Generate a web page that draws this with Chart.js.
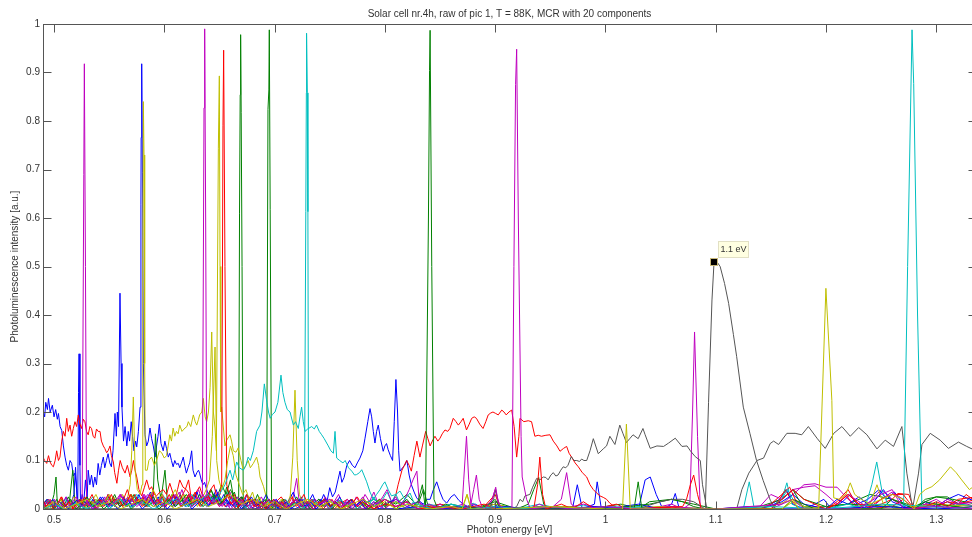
<!DOCTYPE html>
<html>
<head>
<meta charset="utf-8">
<script src="https://cdn.jsdelivr.net/npm/chart.js@4.4.1/dist/chart.umd.min.js"></script>
<style>
    html, body { margin: 0; padding: 0; background: #fff; overflow: hidden; }
    #wrap { width: 980px; height: 537px; }
</style>
</head>
<body>
<div id="wrap"><canvas id="myChart" width="980" height="537"></canvas></div>
<script>
// MCR components, [photon energy eV, intensity a.u.]
var s01Blue = [[0.490,0.203],[0.4915,0.19],[0.4925,0.22],[0.494,0.205],[0.495,0.228],[0.4965,0.2],[0.4985,0.214],[0.5,0.19],[0.5015,0.205],[0.503,0.185],[0.504,0.197],[0.5055,0.17],[0.507,0.162],[0.5085,0.13],[0.51,0.107],[0.5115,0.09],[0.513,0.08],[0.5145,0.1],[0.516,0.094],[0.5175,0.068],[0.519,0.074],[0.5205,0.04],[0.5215,0.01],[0.5222,0.24],[0.5227,0.32],[0.5235,0.09],[0.524,0.01],[0.5255,0.03],[0.527,0.015],[0.5285,0.06],[0.53,0.02],[0.531,0.08],[0.5325,0.05],[0.534,0.07],[0.5356,0.045],[0.537,0.066],[0.5385,0.05],[0.54,0.094],[0.5415,0.07],[0.543,0.09],[0.5447,0.107],[0.546,0.085],[0.5475,0.1],[0.549,0.114],[0.5505,0.095],[0.552,0.087],[0.5535,0.12],[0.5553,0.197],[0.5565,0.15],[0.5574,0.2],[0.5585,0.17],[0.5598,0.445],[0.5608,0.3],[0.5616,0.21],[0.563,0.14],[0.5644,0.17],[0.566,0.13],[0.5673,0.16],[0.5685,0.14],[0.570,0.18],[0.5712,0.15],[0.5725,0.12],[0.574,0.14],[0.575,0.128],[0.5765,0.16],[0.578,0.21],[0.5788,0.627],[0.579,0.766],[0.5795,0.918],[0.5802,0.693],[0.581,0.3],[0.5825,0.153],[0.584,0.13],[0.5855,0.14],[0.587,0.167],[0.5885,0.145],[0.59,0.13],[0.5916,0.107],[0.593,0.13],[0.5943,0.15],[0.5955,0.175],[0.597,0.135],[0.599,0.12],[0.6005,0.14],[0.602,0.125],[0.6036,0.107],[0.605,0.115],[0.6065,0.1],[0.608,0.087],[0.6095,0.1],[0.611,0.092],[0.6127,0.094],[0.614,0.085],[0.6155,0.095],[0.6172,0.107],[0.6185,0.09],[0.62,0.074],[0.6215,0.085],[0.623,0.095],[0.6248,0.12],[0.626,0.08],[0.6278,0.066],[0.6295,0.075],[0.631,0.08],[0.632,0.074],[0.6335,0.06],[0.635,0.05],[0.6365,0.055],[0.6384,0.04],[0.64,0.03],[0.6415,0.02],[0.643,0.015],[0.6444,0.01],[0.647,0.02],[0.65,0.008],[0.653,0.015],[0.656,0.004],[0.66,0.012],[0.664,0.003],[0.668,0.01],[0.672,0.0],[0.677,0.008],[0.682,0.0],[0.688,0.006],[0.694,0.0],[0.70,0.005],[0.706,0.0],[0.712,0.008],[0.718,0.0],[0.724,0.006],[0.73,0.0],[0.7345,0.02],[0.7375,0.005],[0.741,0.01],[0.7445,0.03],[0.7475,0.015],[0.750,0.044],[0.7525,0.025],[0.755,0.035],[0.7575,0.06],[0.7593,0.078],[0.761,0.055],[0.763,0.065],[0.7655,0.09],[0.768,0.1],[0.7705,0.09],[0.7729,0.085],[0.775,0.095],[0.7774,0.105],[0.78,0.12],[0.782,0.146],[0.7845,0.18],[0.7865,0.207],[0.788,0.19],[0.7895,0.16],[0.791,0.136],[0.7925,0.16],[0.794,0.173],[0.796,0.145],[0.7985,0.119],[0.8,0.13],[0.8015,0.135],[0.803,0.122],[0.805,0.11],[0.807,0.1],[0.8085,0.18],[0.81,0.267],[0.8115,0.2],[0.8125,0.12],[0.8137,0.078],[0.816,0.085],[0.818,0.09],[0.82,0.1],[0.822,0.07],[0.824,0.05],[0.8265,0.035],[0.8288,0.023],[0.832,0.015],[0.835,0.01],[0.838,0.02],[0.841,0.02],[0.844,0.04],[0.847,0.056],[0.85,0.035],[0.8527,0.02],[0.856,0.012],[0.86,0.025],[0.863,0.03],[0.867,0.018],[0.871,0.01],[0.876,0.004],[0.882,0.01],[0.89,0.0],[0.9,0.006],[0.91,0.0],[0.925,0.004],[0.94,0.0],[0.955,0.006],[0.97,0.0],[0.9745,0.05],[0.979,0.0],[0.99,0.01],[0.9925,0.056],[0.996,0.005],[1.005,0.0],[1.02,0.005],[1.03,0.0],[1.036,0.06],[1.0406,0.066],[1.046,0.03],[1.052,0.0],[1.06,0.01],[1.0633,0.032],[1.067,0.0],[1.08,0.0],[1.1,0.0],[1.14,0.0],[1.15,0.01],[1.158,0.02],[1.164,0.04],[1.17,0.01],[1.18,0.0],[1.19,0.01],[1.198,0.02],[1.205,0.0],[1.215,0.015],[1.222,0.03],[1.228,0.01],[1.238,0.02],[1.248,0.04],[1.255,0.02],[1.262,0.035],[1.27,0.01],[1.28,0.0],[1.29,0.01],[1.3,0.005],[1.31,0.015],[1.32,0.005],[1.33,0.022],[1.336,0.01]];
var s02Green = [[0.49,0.01],[0.494,0.02],[0.497,0.005],[0.5,0.03],[0.5018,0.066],[0.503,0.01],[0.507,0.02],[0.51,0.005],[0.514,0.015],[0.517,0.08],[0.519,0.01],[0.523,0.02],[0.527,0.0],[0.532,0.015],[0.536,0.005],[0.54,0.02],[0.545,0.01],[0.55,0.025],[0.555,0.005],[0.56,0.02],[0.565,0.01],[0.57,0.03],[0.575,0.01],[0.58,0.02],[0.585,0.01],[0.59,0.03],[0.592,0.155],[0.594,0.06],[0.597,0.02],[0.6006,0.08],[0.603,0.01],[0.607,0.03],[0.612,0.01],[0.617,0.02],[0.622,0.005],[0.627,0.03],[0.632,0.01],[0.637,0.02],[0.642,0.04],[0.647,0.02],[0.652,0.05],[0.656,0.03],[0.66,0.06],[0.663,0.02],[0.6674,0.0],[0.6682,0.61],[0.6688,0.854],[0.6692,0.978],[0.6697,0.818],[0.6705,0.5],[0.6716,0.0],[0.677,0.02],[0.682,0.005],[0.687,0.015],[0.692,0.0],[0.7,0.01],[0.71,0.0],[0.72,0.015],[0.73,0.0],[0.74,0.02],[0.75,0.005],[0.76,0.015],[0.77,0.0],[0.78,0.02],[0.79,0.005],[0.8,0.02],[0.81,0.01],[0.82,0.03],[0.83,0.005],[0.84,0.0],[0.86,0.01],[0.88,0.0],[0.9,0.015],[0.92,0.0],[0.93,0.01],[0.935,0.04],[0.9395,0.065],[0.944,0.01],[0.95,0.0],[1.0,0.005],[1.014,0.01],[1.023,0.005],[1.03,0.0],[1.04,0.015],[1.06,0.02],[1.08,0.01],[1.1,0.0],[1.14,0.005],[1.16,0.02],[1.17,0.04],[1.18,0.02],[1.2,0.005],[1.22,0.01],[1.24,0.03],[1.26,0.02],[1.28,0.005],[1.3,0.025],[1.315,0.02],[1.336,0.01]];
var s03Red = [[0.490,0.107],[0.4915,0.1],[0.4934,0.094],[0.495,0.11],[0.4964,0.097],[0.498,0.09],[0.4994,0.087],[0.501,0.1],[0.5024,0.12],[0.504,0.1],[0.5054,0.107],[0.507,0.14],[0.5085,0.16],[0.51,0.15],[0.5115,0.187],[0.513,0.16],[0.5145,0.173],[0.516,0.15],[0.5175,0.166],[0.519,0.18],[0.5205,0.17],[0.522,0.194],[0.5235,0.175],[0.525,0.166],[0.5265,0.185],[0.528,0.18],[0.5295,0.16],[0.531,0.153],[0.5325,0.17],[0.534,0.166],[0.5355,0.15],[0.537,0.146],[0.5385,0.165],[0.54,0.16],[0.5417,0.16],[0.543,0.14],[0.5447,0.13],[0.546,0.125],[0.5477,0.116],[0.549,0.12],[0.5508,0.13],[0.552,0.11],[0.5538,0.097],[0.555,0.075],[0.557,0.053],[0.5585,0.08],[0.56,0.1],[0.562,0.085],[0.5644,0.074],[0.5665,0.09],[0.569,0.066],[0.5705,0.08],[0.572,0.1],[0.5735,0.08],[0.575,0.066],[0.577,0.04],[0.5795,0.027],[0.582,0.045],[0.584,0.06],[0.5865,0.04],[0.5885,0.046],[0.591,0.03],[0.593,0.027],[0.596,0.035],[0.599,0.04],[0.602,0.03],[0.605,0.053],[0.6075,0.035],[0.6097,0.02],[0.612,0.04],[0.614,0.06],[0.617,0.045],[0.62,0.04],[0.623,0.03],[0.6263,0.02],[0.629,0.035],[0.632,0.046],[0.635,0.025],[0.638,0.015],[0.642,0.025],[0.646,0.01],[0.65,0.02],[0.655,0.005],[0.66,0.015],[0.665,0.0],[0.67,0.01],[0.676,0.02],[0.682,0.005],[0.688,0.015],[0.694,0.0],[0.7,0.012],[0.706,0.025],[0.712,0.005],[0.718,0.015],[0.724,0.0],[0.73,0.01],[0.736,0.02],[0.742,0.005],[0.748,0.015],[0.754,0.0],[0.76,0.012],[0.766,0.02],[0.772,0.005],[0.778,0.015],[0.784,0.0],[0.79,0.01],[0.796,0.02],[0.802,0.005],[0.807,0.015],[0.81,0.03],[0.812,0.05],[0.8155,0.08],[0.8197,0.1],[0.822,0.09],[0.824,0.078],[0.8265,0.11],[0.829,0.14],[0.8318,0.107],[0.834,0.13],[0.837,0.16],[0.839,0.145],[0.841,0.13],[0.843,0.14],[0.8454,0.15],[0.848,0.14],[0.85,0.146],[0.852,0.155],[0.8545,0.163],[0.857,0.16],[0.859,0.166],[0.862,0.187],[0.8645,0.18],[0.8666,0.173],[0.869,0.18],[0.871,0.187],[0.874,0.163],[0.8765,0.175],[0.8787,0.187],[0.881,0.19],[0.883,0.187],[0.886,0.175],[0.889,0.166],[0.8915,0.18],[0.8937,0.194],[0.896,0.198],[0.898,0.2],[0.9005,0.197],[0.9028,0.194],[0.906,0.204],[0.908,0.2],[0.91,0.194],[0.9125,0.2],[0.915,0.204],[0.9172,0.17],[0.9195,0.107],[0.9215,0.15],[0.9225,0.187],[0.926,0.18],[0.93,0.182],[0.933,0.18],[0.936,0.15],[0.939,0.152],[0.942,0.15],[0.946,0.152],[0.9497,0.153],[0.9527,0.14],[0.956,0.13],[0.9588,0.119],[0.962,0.125],[0.9648,0.129],[0.967,0.115],[0.9693,0.107],[0.9725,0.095],[0.9754,0.087],[0.979,0.075],[0.983,0.066],[0.986,0.05],[0.989,0.04],[0.992,0.033],[0.995,0.027],[0.998,0.024],[1.001,0.02],[1.004,0.012],[1.007,0.007],[1.013,0.0],[1.03,0.0],[1.05,0.005],[1.07,0.0],[1.1,0.0],[1.15,0.0],[1.158,0.02],[1.163,0.04],[1.168,0.02],[1.175,0.0],[1.19,0.005],[1.2,0.0],[1.21,0.01],[1.218,0.03],[1.224,0.01],[1.235,0.0],[1.25,0.01],[1.26,0.02],[1.265,0.032],[1.275,0.03],[1.28,0.0],[1.29,0.01],[1.3,0.005],[1.31,0.015],[1.32,0.01],[1.327,0.03],[1.336,0.015]];
var s04Cyan = [[0.49,0.0],[0.494,0.008],[0.498,0.0],[0.502,0.012],[0.506,0.003],[0.51,0.01],[0.514,0.0],[0.518,0.015],[0.522,0.005],[0.526,0.012],[0.53,0.0],[0.534,0.01],[0.538,0.02],[0.542,0.005],[0.546,0.015],[0.55,0.0],[0.554,0.012],[0.558,0.022],[0.562,0.008],[0.566,0.015],[0.57,0.003],[0.574,0.02],[0.578,0.01],[0.582,0.025],[0.586,0.008],[0.59,0.018],[0.594,0.004],[0.598,0.02],[0.602,0.01],[0.606,0.025],[0.61,0.005],[0.614,0.02],[0.618,0.012],[0.622,0.03],[0.626,0.01],[0.63,0.02],[0.634,0.005],[0.638,0.025],[0.642,0.015],[0.646,0.03],[0.65,0.01],[0.654,0.02],[0.658,0.035],[0.662,0.015],[0.666,0.025],[0.67,0.005],[0.674,0.02],[0.678,0.01],[0.682,0.015],[0.686,0.003],[0.69,0.012],[0.694,0.0],[0.698,0.01],[0.702,0.004],[0.706,0.015],[0.71,0.0],[0.714,0.012],[0.718,0.005],[0.722,0.02],[0.7255,0.005],[0.727,0.0],[0.7283,0.613],[0.7288,0.858],[0.729,0.981],[0.7297,0.858],[0.7302,0.613],[0.7308,0.0],[0.734,0.01],[0.738,0.0],[0.742,0.015],[0.746,0.005],[0.75,0.02],[0.754,0.008],[0.758,0.015],[0.762,0.0],[0.766,0.01],[0.77,0.02],[0.774,0.005],[0.778,0.015],[0.782,0.0],[0.786,0.01],[0.79,0.025],[0.794,0.008],[0.798,0.02],[0.802,0.035],[0.806,0.015],[0.81,0.03],[0.814,0.01],[0.818,0.02],[0.822,0.005],[0.826,0.015],[0.83,0.0],[0.84,0.008],[0.85,0.0],[0.86,0.01],[0.87,0.0],[0.88,0.012],[0.89,0.0],[0.9,0.006],[0.92,0.0],[0.94,0.01],[0.96,0.0],[0.98,0.008],[1.0,0.0],[1.03,0.005],[1.06,0.0],[1.1,0.0],[1.125,0.0],[1.1304,0.056],[1.135,0.0],[1.15,0.005],[1.16,0.02],[1.1645,0.054],[1.169,0.01],[1.18,0.0],[1.2,0.005],[1.22,0.0],[1.24,0.01],[1.25,0.0],[1.26,0.008],[1.27,0.0],[1.3,0.005],[1.336,0.0]];
var s05Magenta = [[0.49,0.01],[0.4935,0.0],[0.497,0.015],[0.5,0.003],[0.5035,0.012],[0.507,0.0],[0.5105,0.01],[0.514,0.02],[0.5175,0.005],[0.521,0.015],[0.524,0.004],[0.5255,0.01],[0.527,0.69],[0.5275,0.918],[0.5285,0.5],[0.5295,0.02],[0.533,0.01],[0.5365,0.0],[0.54,0.015],[0.5435,0.005],[0.547,0.02],[0.5505,0.008],[0.554,0.025],[0.5575,0.01],[0.561,0.03],[0.5645,0.012],[0.568,0.02],[0.5715,0.005],[0.575,0.025],[0.5785,0.01],[0.582,0.03],[0.5855,0.015],[0.589,0.035],[0.5925,0.01],[0.596,0.02],[0.5995,0.005],[0.603,0.025],[0.6065,0.01],[0.61,0.02],[0.6135,0.035],[0.617,0.015],[0.6205,0.025],[0.624,0.008],[0.6275,0.02],[0.631,0.04],[0.6345,0.015],[0.638,0.03],[0.6415,0.01],[0.645,0.02],[0.6485,0.035],[0.652,0.012],[0.6555,0.025],[0.659,0.005],[0.6625,0.02],[0.666,0.01],[0.6695,0.025],[0.673,0.005],[0.6765,0.015],[0.68,0.0],[0.684,0.012],[0.688,0.025],[0.692,0.005],[0.696,0.015],[0.7,0.0],[0.704,0.01],[0.708,0.02],[0.712,0.005],[0.716,0.015],[0.72,0.063],[0.7225,0.01],[0.726,0.02],[0.73,0.005],[0.734,0.015],[0.738,0.0],[0.742,0.01],[0.746,0.025],[0.75,0.005],[0.754,0.015],[0.758,0.03],[0.762,0.01],[0.766,0.02],[0.77,0.005],[0.774,0.025],[0.778,0.01],[0.782,0.03],[0.786,0.015],[0.79,0.035],[0.794,0.01],[0.798,0.025],[0.802,0.04],[0.806,0.015],[0.81,0.025],[0.814,0.005],[0.818,0.02],[0.822,0.04],[0.8255,0.06],[0.829,0.078],[0.831,0.02],[0.833,0.005],[0.84,0.0],[0.85,0.01],[0.86,0.0],[0.87,0.01],[0.88,0.0],[0.895,0.005],[0.9,0.04],[0.905,0.0],[0.92,0.0],[0.94,0.005],[0.96,0.0],[0.98,0.01],[1.0,0.0],[1.02,0.005],[1.04,0.0],[1.06,0.01],[1.07,0.0],[1.0765,0.01],[1.079,0.2],[1.0808,0.365],[1.0835,0.15],[1.086,0.0],[1.1,0.0],[1.15,0.0],[1.16,0.01],[1.17,0.03],[1.18,0.05],[1.19,0.052],[1.2,0.045],[1.21,0.045],[1.22,0.02],[1.23,0.005],[1.24,0.015],[1.25,0.04],[1.26,0.02],[1.27,0.005],[1.28,0.0],[1.29,0.01],[1.3,0.02],[1.31,0.005],[1.32,0.015],[1.336,0.005]];
var s06Yellow = [[0.49,0.005],[0.494,0.015],[0.498,0.0],[0.502,0.01],[0.506,0.02],[0.51,0.005],[0.514,0.015],[0.518,0.0],[0.522,0.01],[0.526,0.02],[0.53,0.005],[0.534,0.015],[0.538,0.03],[0.542,0.01],[0.546,0.02],[0.55,0.005],[0.554,0.025],[0.558,0.01],[0.562,0.03],[0.566,0.015],[0.569,0.05],[0.5705,0.12],[0.5719,0.231],[0.5735,0.08],[0.5755,0.04],[0.578,0.03],[0.5798,0.05],[0.5805,0.52],[0.581,0.84],[0.5816,0.73],[0.5822,0.3],[0.5828,0.08],[0.5845,0.08],[0.586,0.1],[0.5885,0.107],[0.591,0.09],[0.593,0.1],[0.5955,0.12],[0.5976,0.116],[0.6,0.105],[0.602,0.11],[0.6035,0.13],[0.605,0.153],[0.6065,0.14],[0.608,0.167],[0.6095,0.15],[0.611,0.16],[0.6125,0.155],[0.614,0.173],[0.616,0.16],[0.6188,0.167],[0.6205,0.17],[0.6218,0.18],[0.624,0.17],[0.6263,0.194],[0.628,0.18],[0.6294,0.173],[0.631,0.185],[0.632,0.194],[0.634,0.2],[0.6354,0.228],[0.637,0.19],[0.6384,0.18],[0.64,0.2],[0.6415,0.25],[0.643,0.365],[0.6445,0.2],[0.646,0.167],[0.6472,0.12],[0.649,0.744],[0.6499,0.893],[0.6505,0.5],[0.6512,0.2],[0.652,0.21],[0.655,0.13],[0.6566,0.142],[0.6596,0.153],[0.661,0.14],[0.6626,0.12],[0.665,0.117],[0.667,0.126],[0.6695,0.1],[0.6716,0.08],[0.674,0.09],[0.676,0.1],[0.678,0.085],[0.6807,0.094],[0.6837,0.107],[0.6855,0.09],[0.6868,0.066],[0.69,0.046],[0.693,0.02],[0.6958,0.0],[0.699,0.015],[0.703,0.005],[0.707,0.02],[0.711,0.01],[0.715,0.03],[0.719,0.01],[0.723,0.02],[0.727,0.005],[0.731,0.015],[0.735,0.0],[0.74,0.01],[0.745,0.02],[0.75,0.005],[0.755,0.015],[0.76,0.0],[0.765,0.01],[0.77,0.02],[0.775,0.005],[0.78,0.015],[0.785,0.0],[0.79,0.01],[0.8,0.02],[0.81,0.005],[0.82,0.015],[0.83,0.0],[0.85,0.01],[0.87,0.0],[0.8745,0.03],[0.878,0.0],[0.9,0.005],[0.92,0.0],[0.95,0.005],[0.98,0.0],[1.0,0.0],[1.05,0.005],[1.1,0.0],[1.15,0.005],[1.17,0.02],[1.18,0.005],[1.19,0.0],[1.22,0.0],[1.24,0.01],[1.2462,0.05],[1.252,0.01],[1.27,0.0],[1.3,0.01],[1.336,0.0]];
var s07Gray = [[0.49,0.0],[0.915,0.0],[0.9195,0.005],[0.9225,0.02],[0.925,0.015],[0.927,0.027],[0.9315,0.03],[0.934,0.045],[0.9376,0.063],[0.9405,0.06],[0.9436,0.066],[0.946,0.065],[0.948,0.06],[0.9505,0.07],[0.9527,0.075],[0.955,0.068],[0.957,0.07],[0.9595,0.08],[0.9617,0.087],[0.964,0.085],[0.966,0.09],[0.969,0.108],[0.9715,0.1],[0.974,0.1],[0.9765,0.098],[0.9784,0.103],[0.9805,0.1],[0.983,0.1],[0.986,0.12],[0.989,0.145],[0.9935,0.114],[0.998,0.124],[1.001,0.13],[1.004,0.15],[1.0086,0.133],[1.013,0.173],[1.016,0.155],[1.019,0.137],[1.022,0.145],[1.025,0.153],[1.0297,0.145],[1.034,0.166],[1.036,0.153],[1.0406,0.125],[1.0467,0.13],[1.0527,0.129],[1.0573,0.136],[1.0633,0.146],[1.0694,0.129],[1.074,0.13],[1.077,0.12],[1.0814,0.108],[1.086,0.1],[1.088,0.05],[1.092,0.0],[1.119,0.0],[1.1237,0.04],[1.13,0.074],[1.1374,0.1],[1.1434,0.105],[1.1494,0.135],[1.1525,0.14],[1.157,0.133],[1.1645,0.156],[1.172,0.156],[1.178,0.153],[1.184,0.17],[1.1918,0.146],[1.1993,0.125],[1.207,0.156],[1.2144,0.17],[1.222,0.15],[1.2296,0.168],[1.2371,0.153],[1.2462,0.124],[1.2537,0.142],[1.2612,0.129],[1.2688,0.17],[1.2733,0.074],[1.2785,0.0],[1.2839,0.074],[1.287,0.133],[1.2945,0.156],[1.3035,0.142],[1.311,0.125],[1.3201,0.138],[1.3276,0.129],[1.336,0.12]];
var s08Blue = [[0.49,0.01],[0.4935,0.02],[0.497,0.005],[0.5005,0.015],[0.504,0.0],[0.5075,0.01],[0.511,0.025],[0.5145,0.005],[0.518,0.03],[0.5195,0.086],[0.521,0.02],[0.5245,0.005],[0.528,0.015],[0.5315,0.0],[0.535,0.02],[0.5385,0.008],[0.542,0.025],[0.5455,0.01],[0.549,0.03],[0.5525,0.005],[0.556,0.02],[0.5595,0.01],[0.563,0.025],[0.5665,0.005],[0.57,0.02],[0.5735,0.01],[0.577,0.03],[0.5805,0.008],[0.584,0.02],[0.5875,0.035],[0.591,0.012],[0.5945,0.025],[0.598,0.005],[0.6015,0.02],[0.605,0.01],[0.6085,0.03],[0.612,0.015],[0.6155,0.025],[0.619,0.005],[0.6225,0.02],[0.626,0.01],[0.6295,0.035],[0.633,0.015],[0.6365,0.025],[0.64,0.005],[0.6435,0.02],[0.647,0.04],[0.6505,0.015],[0.654,0.03],[0.6575,0.01],[0.661,0.025],[0.6645,0.005],[0.668,0.02],[0.6715,0.01],[0.675,0.03],[0.6785,0.015],[0.682,0.02],[0.6855,0.005],[0.689,0.015],[0.6925,0.03],[0.696,0.01],[0.6995,0.02],[0.703,0.0],[0.7065,0.015],[0.71,0.005],[0.7135,0.02],[0.717,0.035],[0.7205,0.01],[0.724,0.025],[0.7275,0.005],[0.731,0.015],[0.7345,0.03],[0.738,0.01],[0.7415,0.02],[0.745,0.005],[0.7485,0.015],[0.752,0.0],[0.7555,0.01],[0.759,0.025],[0.7625,0.005],[0.766,0.015],[0.77,0.0],[0.775,0.01],[0.78,0.02],[0.785,0.005],[0.79,0.015],[0.795,0.0],[0.8,0.01],[0.81,0.02],[0.82,0.005],[0.83,0.015],[0.84,0.0],[0.86,0.005],[0.88,0.0],[0.9,0.01],[0.905,0.0],[0.93,0.0],[0.96,0.005],[0.98,0.0],[1.0,0.0],[1.03,0.01],[1.05,0.0],[1.1,0.0],[1.13,0.005],[1.14,0.0],[1.16,0.015],[1.17,0.03],[1.18,0.01],[1.2,0.0],[1.21,0.02],[1.22,0.01],[1.23,0.025],[1.24,0.005],[1.252,0.04],[1.26,0.015],[1.27,0.005],[1.28,0.0],[1.29,0.015],[1.3,0.005],[1.31,0.02],[1.32,0.03],[1.336,0.015]];
var s09Green = [[0.49,0.02],[0.492,0.0],[0.4955,0.015],[0.499,0.005],[0.5025,0.02],[0.506,0.0],[0.5095,0.01],[0.513,0.025],[0.5165,0.005],[0.52,0.015],[0.5235,0.0],[0.527,0.02],[0.5305,0.005],[0.534,0.015],[0.5375,0.0],[0.541,0.01],[0.5445,0.02],[0.548,0.005],[0.5515,0.015],[0.555,0.03],[0.5585,0.01],[0.562,0.02],[0.5655,0.005],[0.569,0.015],[0.5725,0.03],[0.576,0.01],[0.5795,0.02],[0.583,0.005],[0.5865,0.015],[0.59,0.025],[0.5935,0.01],[0.597,0.03],[0.6005,0.015],[0.604,0.02],[0.6075,0.005],[0.611,0.015],[0.6145,0.03],[0.618,0.01],[0.6215,0.025],[0.625,0.005],[0.6285,0.015],[0.632,0.03],[0.6355,0.01],[0.639,0.02],[0.6425,0.04],[0.646,0.015],[0.6495,0.03],[0.653,0.01],[0.6565,0.045],[0.66,0.02],[0.6635,0.035],[0.667,0.01],[0.6705,0.025],[0.674,0.005],[0.6775,0.02],[0.681,0.01],[0.6845,0.03],[0.688,0.01],[0.6915,0.02],[0.6928,0.0],[0.694,0.824],[0.6948,0.864],[0.6952,0.988],[0.696,0.617],[0.6973,0.0],[0.7005,0.015],[0.704,0.005],[0.708,0.02],[0.712,0.0],[0.716,0.01],[0.72,0.025],[0.724,0.005],[0.728,0.015],[0.732,0.0],[0.736,0.01],[0.74,0.02],[0.744,0.005],[0.748,0.015],[0.752,0.0],[0.756,0.01],[0.76,0.02],[0.765,0.005],[0.77,0.015],[0.775,0.0],[0.78,0.01],[0.79,0.02],[0.8,0.005],[0.81,0.015],[0.82,0.0],[0.83,0.01],[0.835,0.04],[0.84,0.0],[0.86,0.005],[0.88,0.0],[0.9,0.01],[0.92,0.0],[0.96,0.005],[1.0,0.0],[1.04,0.01],[1.05,0.015],[1.06,0.02],[1.07,0.015],[1.08,0.005],[1.09,0.0],[1.15,0.0],[1.16,0.02],[1.17,0.04],[1.175,0.02],[1.18,0.0],[1.22,0.01],[1.26,0.005],[1.28,0.0],[1.29,0.02],[1.3,0.025],[1.31,0.025],[1.32,0.01],[1.336,0.005]];
var s10Red = [[0.49,0.015],[0.493,0.005],[0.4965,0.02],[0.5,0.0],[0.5035,0.01],[0.507,0.025],[0.5105,0.005],[0.514,0.015],[0.5175,0.0],[0.521,0.02],[0.5245,0.01],[0.528,0.025],[0.5315,0.005],[0.535,0.015],[0.5385,0.0],[0.542,0.02],[0.5455,0.01],[0.549,0.03],[0.5525,0.01],[0.556,0.02],[0.5595,0.005],[0.563,0.02],[0.5665,0.04],[0.57,0.015],[0.5735,0.03],[0.577,0.01],[0.5805,0.025],[0.584,0.005],[0.5875,0.02],[0.591,0.035],[0.5945,0.01],[0.598,0.025],[0.6015,0.005],[0.605,0.02],[0.6085,0.03],[0.612,0.01],[0.6155,0.025],[0.619,0.04],[0.622,0.06],[0.6245,0.02],[0.628,0.035],[0.6315,0.01],[0.635,0.03],[0.6385,0.015],[0.642,0.04],[0.645,0.05],[0.648,0.02],[0.6505,0.03],[0.652,0.05],[0.6532,0.79],[0.6538,0.946],[0.655,0.5],[0.6566,0.05],[0.66,0.02],[0.6635,0.03],[0.667,0.005],[0.6705,0.02],[0.674,0.01],[0.6775,0.025],[0.681,0.005],[0.6845,0.015],[0.688,0.0],[0.6915,0.01],[0.695,0.02],[0.6985,0.005],[0.702,0.015],[0.7055,0.0],[0.709,0.02],[0.7125,0.01],[0.716,0.025],[0.7195,0.005],[0.723,0.015],[0.7265,0.03],[0.73,0.01],[0.7335,0.02],[0.737,0.005],[0.7405,0.015],[0.744,0.0],[0.748,0.01],[0.752,0.02],[0.756,0.005],[0.76,0.015],[0.765,0.0],[0.77,0.01],[0.775,0.025],[0.78,0.005],[0.785,0.015],[0.79,0.0],[0.795,0.01],[0.8,0.02],[0.81,0.005],[0.82,0.015],[0.83,0.0],[0.85,0.01],[0.87,0.0],[0.89,0.005],[0.9,0.03],[0.905,0.0],[0.93,0.0],[0.96,0.005],[1.0,0.0],[1.05,0.0],[1.06,0.005],[1.07,0.0],[1.1,0.0],[1.14,0.0],[1.15,0.01],[1.16,0.03],[1.167,0.045],[1.172,0.02],[1.18,0.005],[1.2,0.0],[1.21,0.015],[1.22,0.04],[1.225,0.02],[1.235,0.0],[1.26,0.005],[1.27,0.02],[1.28,0.0],[1.3,0.01],[1.31,0.0],[1.32,0.01],[1.336,0.02]];
var s11Cyan = [[0.49,0.005],[0.495,0.015],[0.5,0.0],[0.505,0.01],[0.51,0.02],[0.515,0.005],[0.52,0.015],[0.525,0.0],[0.53,0.01],[0.535,0.025],[0.54,0.005],[0.545,0.015],[0.55,0.0],[0.555,0.01],[0.56,0.02],[0.565,0.005],[0.57,0.015],[0.575,0.03],[0.58,0.01],[0.585,0.02],[0.59,0.005],[0.595,0.015],[0.6,0.025],[0.605,0.01],[0.61,0.02],[0.615,0.005],[0.62,0.015],[0.625,0.03],[0.63,0.01],[0.635,0.02],[0.64,0.005],[0.645,0.015],[0.65,0.025],[0.655,0.01],[0.66,0.02],[0.665,0.005],[0.67,0.015],[0.675,0.0],[0.68,0.01],[0.685,0.02],[0.69,0.005],[0.695,0.015],[0.7,0.0],[0.705,0.01],[0.71,0.02],[0.715,0.005],[0.72,0.015],[0.725,0.0],[0.73,0.01],[0.735,0.02],[0.74,0.005],[0.745,0.015],[0.75,0.0],[0.755,0.01],[0.76,0.02],[0.765,0.005],[0.77,0.015],[0.775,0.0],[0.78,0.01],[0.79,0.02],[0.8,0.005],[0.81,0.015],[0.82,0.0],[0.84,0.01],[0.86,0.0],[0.88,0.005],[0.9,0.0],[0.95,0.005],[1.0,0.0],[1.05,0.0],[1.1,0.0],[1.15,0.0],[1.16,0.02],[1.165,0.04],[1.17,0.02],[1.18,0.005],[1.2,0.0],[1.22,0.01],[1.235,0.0],[1.2415,0.05],[1.246,0.097],[1.2505,0.04],[1.256,0.01],[1.262,0.0],[1.2703,0.0],[1.274,0.5],[1.278,0.988],[1.2795,0.877],[1.283,0.4],[1.287,0.0],[1.295,0.005],[1.31,0.0],[1.32,0.01],[1.336,0.005]];
var s12Magenta = [[0.49,0.0],[0.4935,0.015],[0.497,0.005],[0.5005,0.02],[0.504,0.0],[0.5075,0.01],[0.511,0.025],[0.5145,0.005],[0.518,0.015],[0.5215,0.0],[0.525,0.01],[0.5285,0.02],[0.532,0.005],[0.5355,0.015],[0.539,0.0],[0.5425,0.01],[0.546,0.025],[0.5495,0.005],[0.553,0.02],[0.5565,0.01],[0.56,0.03],[0.5635,0.015],[0.567,0.025],[0.5705,0.005],[0.574,0.02],[0.5775,0.01],[0.581,0.03],[0.5845,0.01],[0.588,0.02],[0.5915,0.005],[0.595,0.015],[0.5985,0.03],[0.602,0.01],[0.6055,0.025],[0.609,0.005],[0.6125,0.02],[0.616,0.04],[0.6195,0.015],[0.623,0.03],[0.6265,0.01],[0.63,0.025],[0.6325,0.01],[0.6345,0.02],[0.636,0.827],[0.6366,0.99],[0.6375,0.6],[0.6385,0.02],[0.642,0.03],[0.6455,0.01],[0.649,0.02],[0.6525,0.005],[0.656,0.02],[0.6595,0.035],[0.663,0.01],[0.6665,0.025],[0.67,0.005],[0.6735,0.015],[0.677,0.0],[0.6805,0.01],[0.684,0.02],[0.6875,0.005],[0.691,0.015],[0.6945,0.0],[0.698,0.01],[0.7015,0.02],[0.705,0.005],[0.7085,0.015],[0.712,0.0],[0.7155,0.01],[0.719,0.02],[0.7225,0.005],[0.726,0.015],[0.7295,0.0],[0.733,0.01],[0.737,0.02],[0.741,0.005],[0.745,0.015],[0.749,0.0],[0.753,0.01],[0.757,0.02],[0.761,0.005],[0.765,0.015],[0.77,0.0],[0.775,0.01],[0.78,0.025],[0.785,0.005],[0.79,0.015],[0.8,0.0],[0.81,0.02],[0.82,0.005],[0.83,0.015],[0.84,0.0],[0.85,0.01],[0.86,0.0],[0.87,0.005],[0.8715,0.06],[0.874,0.15],[0.876,0.06],[0.878,0.01],[0.8805,0.04],[0.883,0.07],[0.8855,0.02],[0.889,0.0],[0.9,0.005],[0.91,0.0],[0.93,0.0],[0.94,0.01],[0.95,0.0],[0.96,0.02],[0.9648,0.075],[0.969,0.01],[0.975,0.0],[1.0,0.005],[1.03,0.0],[1.06,0.005],[1.09,0.0],[1.12,0.0],[1.14,0.005],[1.15,0.03],[1.16,0.02],[1.17,0.04],[1.18,0.045],[1.19,0.048],[1.2,0.03],[1.21,0.01],[1.22,0.03],[1.23,0.015],[1.24,0.0],[1.25,0.02],[1.26,0.035],[1.27,0.02],[1.28,0.0],[1.29,0.01],[1.3,0.005],[1.31,0.02],[1.32,0.01],[1.336,0.015]];
var s13Yellow = [[0.49,0.01],[0.494,0.0],[0.498,0.015],[0.502,0.005],[0.506,0.02],[0.51,0.0],[0.514,0.01],[0.518,0.025],[0.522,0.005],[0.526,0.015],[0.53,0.0],[0.534,0.01],[0.538,0.02],[0.542,0.005],[0.546,0.015],[0.55,0.03],[0.554,0.01],[0.558,0.02],[0.562,0.005],[0.566,0.015],[0.57,0.03],[0.574,0.01],[0.578,0.02],[0.582,0.005],[0.586,0.02],[0.59,0.04],[0.594,0.015],[0.598,0.03],[0.602,0.01],[0.606,0.025],[0.61,0.04],[0.614,0.015],[0.618,0.03],[0.622,0.01],[0.626,0.02],[0.63,0.005],[0.634,0.02],[0.638,0.04],[0.641,0.06],[0.6435,0.15],[0.646,0.334],[0.6475,0.1],[0.6495,0.06],[0.652,0.04],[0.655,0.06],[0.6575,0.1],[0.66,0.13],[0.6625,0.11],[0.665,0.07],[0.668,0.05],[0.671,0.03],[0.674,0.04],[0.677,0.02],[0.68,0.035],[0.683,0.01],[0.686,0.025],[0.69,0.005],[0.694,0.015],[0.698,0.0],[0.702,0.01],[0.706,0.02],[0.71,0.005],[0.714,0.02],[0.7165,0.107],[0.7185,0.245],[0.7205,0.1],[0.7225,0.03],[0.726,0.01],[0.73,0.02],[0.734,0.005],[0.738,0.015],[0.742,0.0],[0.746,0.01],[0.75,0.02],[0.754,0.005],[0.758,0.015],[0.762,0.0],[0.766,0.01],[0.77,0.02],[0.775,0.005],[0.78,0.015],[0.785,0.0],[0.79,0.01],[0.795,0.02],[0.8,0.005],[0.81,0.015],[0.82,0.0],[0.83,0.01],[0.84,0.0],[0.86,0.005],[0.88,0.0],[0.9,0.01],[0.92,0.0],[0.96,0.005],[1.0,0.0],[1.1,0.0],[1.16,0.0],[1.17,0.015],[1.18,0.005],[1.2,0.0],[1.26,0.0],[1.28,0.005],[1.3,0.01],[1.336,0.005]];
var s14Gray = [[0.49,0.0],[0.895,0.0],[0.8985,0.02],[0.9005,0.04],[0.903,0.01],[0.906,0.0],[0.93,0.0],[0.94,0.005],[0.95,0.0],[1.03,0.0],[1.04,0.008],[1.05,0.015],[1.06,0.02],[1.07,0.02],[1.08,0.015],[1.087,0.005],[1.0905,0.0],[1.0935,0.22],[1.0966,0.431],[1.0985,0.51],[1.101,0.51],[1.104,0.5],[1.108,0.465],[1.1117,0.424],[1.116,0.36],[1.119,0.314],[1.125,0.21],[1.131,0.156],[1.137,0.1],[1.143,0.059],[1.1495,0.018],[1.154,0.0],[1.27,0.0],[1.275,0.005],[1.28,0.0],[1.336,0.0]];
var s15Blue = [[0.49,0.0],[0.4945,0.01],[0.499,0.02],[0.5035,0.005],[0.508,0.015],[0.5125,0.0],[0.517,0.01],[0.5215,0.02],[0.526,0.005],[0.5305,0.015],[0.535,0.0],[0.5395,0.01],[0.544,0.025],[0.5485,0.005],[0.553,0.015],[0.5575,0.0],[0.562,0.01],[0.5665,0.02],[0.571,0.005],[0.5755,0.015],[0.58,0.0],[0.5845,0.01],[0.589,0.02],[0.5935,0.005],[0.598,0.015],[0.6025,0.0],[0.607,0.01],[0.6115,0.025],[0.616,0.005],[0.6205,0.015],[0.625,0.0],[0.6295,0.01],[0.634,0.02],[0.6385,0.005],[0.643,0.015],[0.6475,0.03],[0.652,0.01],[0.6565,0.02],[0.661,0.005],[0.6655,0.015],[0.67,0.0],[0.6745,0.01],[0.679,0.025],[0.6835,0.005],[0.688,0.015],[0.6925,0.0],[0.697,0.01],[0.7015,0.02],[0.706,0.005],[0.7105,0.015],[0.715,0.0],[0.7195,0.01],[0.724,0.02],[0.7285,0.005],[0.733,0.015],[0.7375,0.0],[0.742,0.01],[0.7465,0.02],[0.751,0.005],[0.7555,0.015],[0.76,0.0],[0.7645,0.01],[0.769,0.02],[0.7735,0.005],[0.778,0.015],[0.7825,0.0],[0.787,0.01],[0.795,0.0],[0.81,0.0],[0.83,0.005],[0.85,0.0],[0.87,0.005],[0.89,0.0],[0.91,0.005],[0.93,0.0],[0.96,0.0],[0.99,0.005],[1.02,0.0],[1.1,0.0],[1.2,0.0],[1.25,0.005],[1.3,0.0],[1.336,0.005]];
var s16Green = [[0.49,0.005],[0.495,0.02],[0.5,0.0],[0.505,0.015],[0.51,0.005],[0.515,0.02],[0.52,0.0],[0.525,0.01],[0.53,0.025],[0.535,0.005],[0.54,0.015],[0.545,0.0],[0.55,0.01],[0.555,0.02],[0.56,0.005],[0.565,0.015],[0.57,0.0],[0.575,0.01],[0.58,0.02],[0.585,0.005],[0.59,0.015],[0.595,0.0],[0.6,0.01],[0.605,0.02],[0.61,0.005],[0.615,0.015],[0.62,0.03],[0.625,0.01],[0.63,0.02],[0.635,0.005],[0.64,0.015],[0.645,0.03],[0.65,0.01],[0.655,0.02],[0.66,0.04],[0.665,0.015],[0.67,0.025],[0.675,0.005],[0.68,0.015],[0.685,0.0],[0.69,0.01],[0.695,0.02],[0.7,0.005],[0.705,0.015],[0.71,0.0],[0.715,0.01],[0.72,0.02],[0.725,0.005],[0.73,0.015],[0.735,0.0],[0.74,0.01],[0.745,0.02],[0.75,0.005],[0.755,0.015],[0.76,0.0],[0.765,0.01],[0.77,0.02],[0.775,0.005],[0.78,0.015],[0.785,0.0],[0.79,0.01],[0.795,0.02],[0.8,0.005],[0.805,0.015],[0.81,0.0],[0.815,0.01],[0.82,0.02],[0.825,0.005],[0.83,0.015],[0.834,0.05],[0.8368,0.0],[0.8395,0.6],[0.8405,0.904],[0.841,0.987],[0.8425,0.5],[0.8445,0.02],[0.848,0.0],[0.855,0.01],[0.865,0.0],[0.875,0.005],[0.885,0.0],[0.895,0.01],[0.9,0.02],[0.905,0.0],[1.026,0.0],[1.0297,0.056],[1.033,0.0],[1.1,0.0],[1.16,0.0],[1.17,0.02],[1.18,0.01],[1.19,0.0],[1.25,0.0],[1.26,0.02],[1.27,0.01],[1.28,0.0],[1.29,0.015],[1.3,0.01],[1.336,0.0]];
var s17Red = [[0.49,0.02],[0.4925,0.005],[0.496,0.015],[0.4995,0.0],[0.503,0.01],[0.5065,0.025],[0.51,0.005],[0.5135,0.015],[0.517,0.0],[0.5205,0.01],[0.524,0.02],[0.5275,0.005],[0.531,0.015],[0.5345,0.03],[0.538,0.01],[0.5415,0.02],[0.545,0.005],[0.5485,0.015],[0.552,0.03],[0.5555,0.01],[0.559,0.02],[0.5625,0.005],[0.566,0.015],[0.5695,0.03],[0.573,0.01],[0.5765,0.02],[0.58,0.005],[0.5835,0.015],[0.587,0.03],[0.5905,0.01],[0.594,0.02],[0.5975,0.005],[0.601,0.015],[0.6045,0.03],[0.608,0.01],[0.6115,0.02],[0.615,0.005],[0.6185,0.015],[0.622,0.03],[0.6255,0.01],[0.629,0.02],[0.6325,0.005],[0.636,0.015],[0.6395,0.03],[0.643,0.01],[0.6465,0.02],[0.65,0.005],[0.6535,0.015],[0.657,0.03],[0.6605,0.01],[0.664,0.02],[0.6675,0.005],[0.671,0.015],[0.6745,0.03],[0.678,0.01],[0.6815,0.02],[0.685,0.005],[0.6885,0.015],[0.692,0.0],[0.6955,0.01],[0.699,0.02],[0.703,0.005],[0.707,0.015],[0.711,0.0],[0.715,0.01],[0.72,0.02],[0.725,0.005],[0.73,0.015],[0.735,0.0],[0.74,0.01],[0.745,0.02],[0.75,0.005],[0.755,0.015],[0.76,0.0],[0.765,0.01],[0.77,0.02],[0.775,0.005],[0.78,0.015],[0.79,0.0],[0.8,0.01],[0.81,0.005],[0.82,0.015],[0.83,0.0],[0.85,0.005],[0.87,0.0],[0.89,0.01],[0.9,0.0],[0.935,0.0],[0.9385,0.05],[0.9405,0.107],[0.943,0.03],[0.946,0.0],[0.96,0.01],[0.97,0.0],[0.98,0.015],[0.99,0.0],[1.01,0.01],[1.02,0.0],[1.07,0.005],[1.0735,0.02],[1.077,0.05],[1.08,0.07],[1.0835,0.03],[1.087,0.0],[1.15,0.0],[1.16,0.02],[1.17,0.04],[1.18,0.02],[1.19,0.01],[1.2,0.0],[1.21,0.01],[1.22,0.03],[1.23,0.01],[1.24,0.005],[1.25,0.02],[1.26,0.03],[1.27,0.03],[1.275,0.015],[1.28,0.0],[1.29,0.005],[1.3,0.015],[1.31,0.005],[1.32,0.02],[1.336,0.025]];
var s18Cyan = [[0.49,0.0],[0.5,0.01],[0.51,0.0],[0.52,0.012],[0.53,0.0],[0.54,0.015],[0.55,0.005],[0.56,0.02],[0.57,0.005],[0.58,0.015],[0.59,0.0],[0.6,0.01],[0.61,0.02],[0.62,0.005],[0.63,0.015],[0.64,0.03],[0.645,0.015],[0.65,0.03],[0.655,0.05],[0.6596,0.08],[0.662,0.06],[0.6656,0.097],[0.668,0.085],[0.6716,0.08],[0.674,0.09],[0.676,0.107],[0.678,0.1],[0.6807,0.12],[0.6837,0.16],[0.6868,0.173],[0.6885,0.2],[0.6907,0.258],[0.693,0.22],[0.6945,0.2],[0.696,0.187],[0.698,0.195],[0.7004,0.2],[0.703,0.22],[0.7058,0.276],[0.7075,0.24],[0.7094,0.22],[0.7115,0.205],[0.714,0.2],[0.717,0.173],[0.719,0.18],[0.7215,0.166],[0.723,0.19],[0.7245,0.21],[0.726,0.18],[0.7276,0.16],[0.73,0.165],[0.7336,0.17],[0.736,0.165],[0.738,0.173],[0.7405,0.16],[0.7427,0.153],[0.745,0.145],[0.7487,0.13],[0.751,0.12],[0.7533,0.115],[0.7548,0.16],[0.7563,0.105],[0.759,0.1],[0.762,0.095],[0.764,0.1],[0.767,0.085],[0.77,0.078],[0.7725,0.07],[0.7744,0.071],[0.777,0.075],[0.779,0.081],[0.781,0.07],[0.7835,0.056],[0.7865,0.035],[0.7895,0.02],[0.7925,0.03],[0.7956,0.04],[0.798,0.05],[0.8,0.056],[0.803,0.04],[0.806,0.027],[0.81,0.03],[0.8137,0.037],[0.818,0.02],[0.8228,0.033],[0.826,0.015],[0.829,0.01],[0.835,0.005],[0.845,0.0],[0.86,0.01],[0.88,0.0],[0.9,0.005],[0.92,0.0],[0.95,0.005],[0.98,0.0],[1.0,0.005],[1.05,0.0],[1.1,0.0],[1.15,0.005],[1.2,0.0],[1.25,0.01],[1.3,0.005],[1.336,0.0]];
var s19Magenta = [[0.49,0.005],[0.495,0.02],[0.5,0.005],[0.505,0.015],[0.51,0.0],[0.515,0.01],[0.52,0.025],[0.525,0.005],[0.53,0.015],[0.535,0.0],[0.54,0.01],[0.545,0.02],[0.55,0.005],[0.555,0.015],[0.56,0.03],[0.565,0.01],[0.57,0.02],[0.575,0.005],[0.58,0.015],[0.585,0.03],[0.59,0.01],[0.595,0.02],[0.6,0.005],[0.605,0.015],[0.61,0.03],[0.615,0.01],[0.62,0.02],[0.625,0.005],[0.63,0.015],[0.635,0.03],[0.64,0.01],[0.645,0.02],[0.65,0.005],[0.655,0.015],[0.66,0.0],[0.665,0.01],[0.67,0.02],[0.675,0.005],[0.68,0.015],[0.685,0.0],[0.69,0.01],[0.695,0.02],[0.7,0.005],[0.705,0.015],[0.71,0.0],[0.715,0.01],[0.72,0.02],[0.725,0.005],[0.73,0.015],[0.735,0.0],[0.74,0.01],[0.75,0.02],[0.76,0.005],[0.77,0.015],[0.78,0.0],[0.79,0.01],[0.8,0.02],[0.81,0.005],[0.82,0.015],[0.83,0.0],[0.84,0.01],[0.85,0.0],[0.86,0.005],[0.87,0.0],[0.88,0.01],[0.89,0.0],[0.8975,0.02],[0.9005,0.045],[0.903,0.01],[0.908,0.0],[0.9152,0.0],[0.917,0.5],[0.9185,0.875],[0.9195,0.948],[0.921,0.6],[0.9235,0.15],[0.9245,0.066],[0.9285,0.02],[0.932,0.0],[0.95,0.005],[0.97,0.0],[1.0,0.005],[1.03,0.0],[1.1,0.0],[1.16,0.01],[1.17,0.02],[1.18,0.0],[1.23,0.0],[1.25,0.03],[1.26,0.04],[1.265,0.02],[1.27,0.0],[1.3,0.005],[1.336,0.0]];
var s20Yellow = [[0.49,0.0],[0.5,0.015],[0.51,0.0],[0.52,0.01],[0.53,0.02],[0.54,0.005],[0.55,0.015],[0.56,0.0],[0.57,0.01],[0.58,0.02],[0.59,0.005],[0.6,0.015],[0.61,0.0],[0.62,0.01],[0.63,0.02],[0.64,0.005],[0.65,0.015],[0.66,0.03],[0.67,0.01],[0.68,0.02],[0.69,0.005],[0.7,0.015],[0.71,0.0],[0.72,0.01],[0.73,0.02],[0.74,0.005],[0.75,0.015],[0.76,0.0],[0.77,0.01],[0.78,0.02],[0.79,0.005],[0.8,0.015],[0.81,0.0],[0.82,0.01],[0.84,0.0],[0.86,0.005],[0.87,0.0],[0.8745,0.03],[0.878,0.0],[0.9,0.0],[0.95,0.005],[1.0,0.0],[1.0155,0.0],[1.019,0.175],[1.0225,0.0],[1.05,0.0],[1.1,0.0],[1.16,0.0],[1.17,0.02],[1.175,0.0],[1.1933,0.0],[1.1999,0.455],[1.2053,0.224],[1.207,0.023],[1.212,0.02],[1.218,0.03],[1.222,0.054],[1.226,0.03],[1.232,0.02],[1.24,0.01],[1.25,0.02],[1.26,0.03],[1.27,0.02],[1.28,0.0],[1.285,0.03],[1.29,0.04],[1.296,0.046],[1.303,0.06],[1.3128,0.087],[1.318,0.075],[1.323,0.06],[1.33,0.04],[1.336,0.05]];

var components = [s01Blue, s02Green, s03Red, s04Cyan, s05Magenta, s06Yellow, s07Gray,
    s08Blue, s09Green, s10Red, s11Cyan, s12Magenta, s13Yellow, s14Gray,
    s15Blue, s16Green, s17Red, s18Cyan, s19Magenta, s20Yellow];

var xTicks = [0.5, 0.6, 0.7, 0.8, 0.9, 1, 1.1, 1.2, 1.3];
var yTicks = [0, 0.1, 0.2, 0.3, 0.4, 0.5, 0.6, 0.7, 0.8, 0.9, 1];
var xRange = [0.49, 1.336];
var yRange = [0, 1];
var tipPoint = [1.0985, 0.51];
var tipText = '1.1 eV';

// old matlab colour order
var lineColors = {
    Blue: '#0000ff', Green: '#008000', Red: '#ff0000', Cyan: '#00bfbf',
    Magenta: '#bf00bf', Yellow: '#bfbf00', Gray: '#555555'
};
var colorOrder = ['Blue', 'Green', 'Red', 'Cyan', 'Magenta', 'Yellow', 'Gray'];

var axisFont = { family: 'Liberation Sans', size: 10 };
var textColor = '#333333';

function fmt(v) {
    return String(Math.round(v * 10) / 10);
}

var datasets = components.map(function (pts, i) {
    return {
        label: 'component ' + (i + 1),
        data: pts.map(function (p) { return { x: p[0], y: p[1] }; }),
        borderColor: lineColors[colorOrder[i % 7]],
        borderWidth: 1,
        pointRadius: 0,
        fill: false,
        tension: 0,
        order: components.length - i
    };
});

// inward ticks, box and the data tip, like the matlab figure
var matlabAxes = {
    id: 'matlabAxes',
    afterDatasetsDraw: function (chart) {
        var ctx = chart.ctx;
        var a = chart.chartArea;
        var xs = chart.scales.x, ys = chart.scales.y;
        var L = Math.round(a.left) + 0.5, R = Math.round(a.right) + 0.5;
        var T = Math.round(a.top) + 0.5, B = Math.round(a.bottom) + 0.5;
        var len = 8;
        ctx.save();
        ctx.strokeStyle = '#555555';
        ctx.lineWidth = 1;
        ctx.strokeRect(L, T, R - L, B - T);
        ctx.beginPath();
        xTicks.forEach(function (v) {
            var px = Math.round(xs.getPixelForValue(v)) + 0.5;
            ctx.moveTo(px, B); ctx.lineTo(px, B - len);
            ctx.moveTo(px, T); ctx.lineTo(px, T + len);
        });
        yTicks.forEach(function (v) {
            var py = Math.round(ys.getPixelForValue(v)) + 0.5;
            ctx.moveTo(L, py); ctx.lineTo(L + len, py);
            ctx.moveTo(R, py); ctx.lineTo(R - len, py);
        });
        ctx.stroke();

        var tx = Math.round(xs.getPixelForValue(tipPoint[0]));
        var ty = Math.round(ys.getPixelForValue(tipPoint[1]));
        ctx.fillStyle = '#000000';
        ctx.fillRect(tx - 3, ty - 3, 6, 6);
        ctx.strokeStyle = '#c8b878';
        ctx.strokeRect(tx - 3.5, ty - 3.5, 7, 7);
        ctx.fillStyle = '#ffffe1';
        ctx.fillRect(tx + 4, ty - 21, 31, 17);
        ctx.strokeStyle = '#e2e0c4';
        ctx.strokeRect(tx + 4.5, ty - 20.5, 30, 16);
        ctx.fillStyle = textColor;
        ctx.font = '9px "Liberation Sans"';
        ctx.textAlign = 'center';
        ctx.textBaseline = 'middle';
        ctx.fillText(tipText, tx + 19.5, ty - 12);
        ctx.restore();
    }
};

new Chart('myChart', {
    type: 'line',
    data: { datasets: datasets },
    plugins: [matlabAxes],
    options: {
        responsive: false,
        animation: false,
        events: [],
        layout: { padding: { left: 0, right: 4, top: 0, bottom: 0 } },
        plugins: {
            legend: { display: false },
            tooltip: { enabled: false },
            title: {
                display: true,
                fullSize: false,
                text: 'Solar cell nr.4h, raw of pic 1, T = 88K, MCR with 20 components',
                color: textColor,
                font: { family: 'Liberation Sans', size: 10, weight: 'normal' },
                padding: { top: 8, bottom: 4 }
            }
        },
        scales: {
            x: {
                type: 'linear',
                min: xRange[0],
                max: xRange[1],
                afterBuildTicks: function (s) { s.ticks = xTicks.map(function (v) { return { value: v }; }); },
                afterFit: function (s) { s.height = 28; },
                grid: { display: false, drawTicks: false },
                border: { display: false },
                ticks: { color: textColor, font: axisFont, padding: 5, maxRotation: 0, callback: fmt },
                title: { display: true, text: 'Photon energy [eV]', color: textColor, font: axisFont, padding: { top: 0, bottom: 1 } }
            },
            y: {
                min: yRange[0],
                max: yRange[1],
                afterBuildTicks: function (s) { s.ticks = yTicks.map(function (v) { return { value: v }; }); },
                afterFit: function (s) { s.width = 43; },
                grid: { display: false, drawTicks: false },
                border: { display: false },
                ticks: { color: textColor, font: axisFont, padding: 3, callback: fmt },
                title: { display: true, text: 'Photoluminescence intensity [a.u.]', color: textColor, font: axisFont, padding: { top: 9, bottom: 0 } }
            }
        }
    }
});
</script>
</body>
</html>
